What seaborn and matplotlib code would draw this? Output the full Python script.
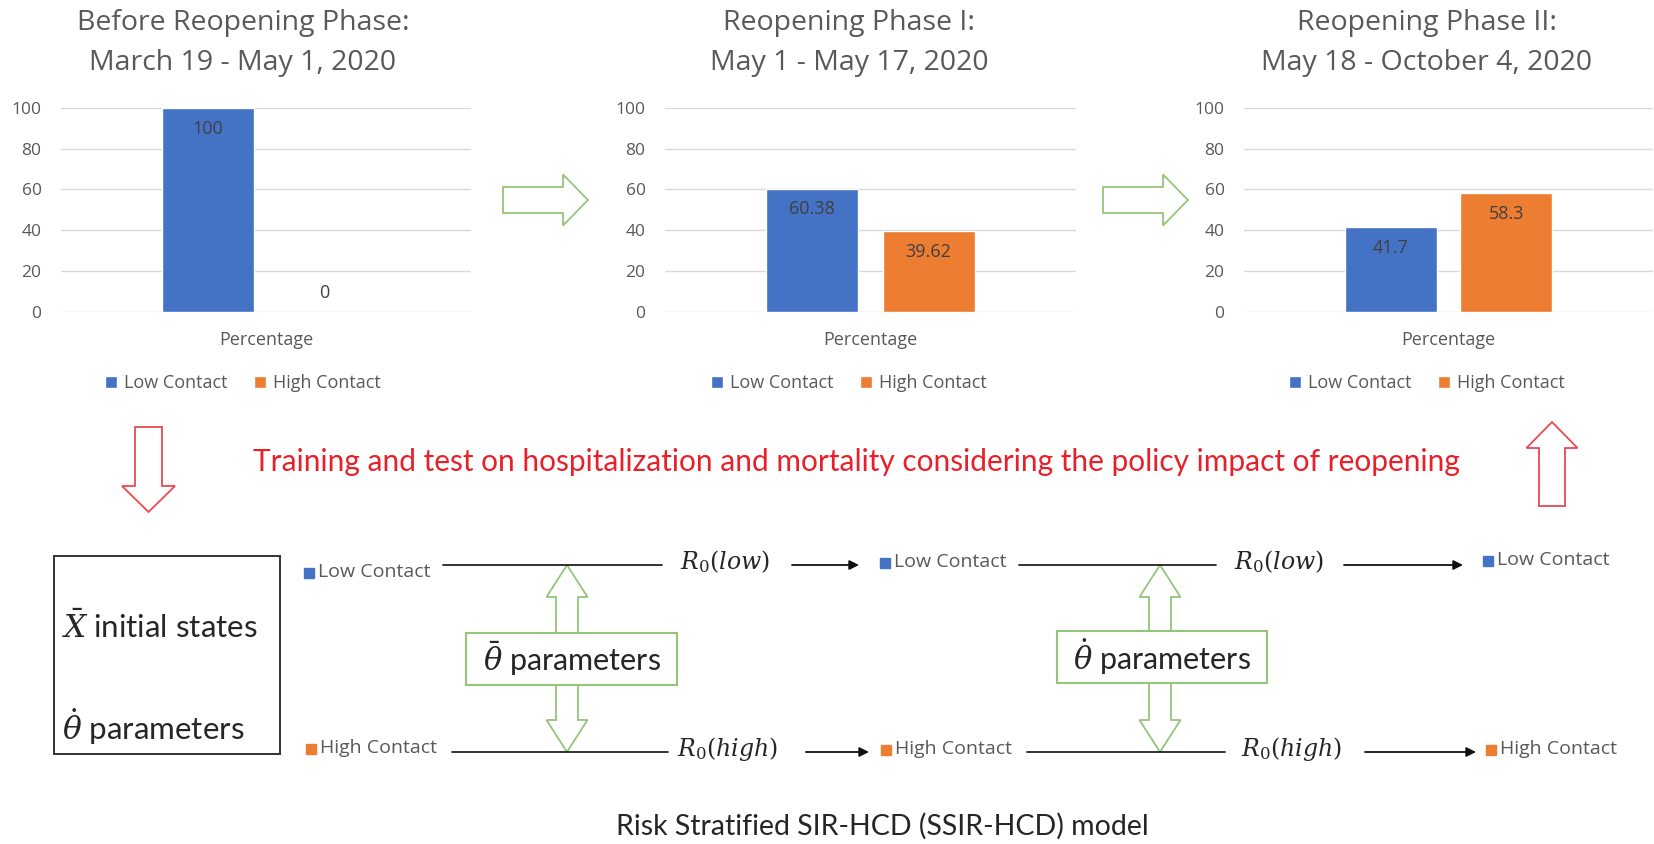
import numpy as np
import pandas as pd
import matplotlib
matplotlib.use("Agg")
import matplotlib.pyplot as plt
from matplotlib.patches import FancyArrow, Rectangle
import seaborn as sns

# values
phase_titles = [
    ("Before Reopening Phase:", "March 19 - May 1, 2020"),
    ("Reopening Phase I:", "May 1 - May 17, 2020"),
    ("Reopening Phase II:", "May 18 - October 4, 2020"),
]
groups = ["Low Contact", "High Contact"]
category = "Percentage"
low_contact = [100, 60.38, 41.7]
high_contact = [0, 39.62, 58.3]
yticks = [0, 20, 40, 60, 80, 100]

policy_text = "Training and test on hospitalization and mortality considering the policy impact of reopening"
caption = "Risk Stratified SIR-HCD (SSIR-HCD) model"

palette = {"Low Contact": "#4472C4", "High Contact": "#ED7D31"}
GREY = "#595959"
GREEN = "#94C57A"
RED = "#E84A50"
CALIBRI_LIKE = ["Lato", "DejaVu Sans"]

sns.set_style("white")
plt.rcParams["font.family"] = ["Open Sans", "DejaVu Sans"]
plt.rcParams["mathtext.fontset"] = "dejavuserif"

W, H = 1654, 844
fig = plt.figure(figsize=(W / 100, H / 100), dpi=100)

# full-figure overlay in pixel units for the diagram parts
bg = fig.add_axes([0, 0, 1, 1])
bg.set_xlim(0, W)
bg.set_ylim(H, 0)
bg.axis("off")


def px_axes(x0, x1, y_top, y_bot):
    return fig.add_axes([x0 / W, 1 - y_bot / H, (x1 - x0) / W, (y_bot - y_top) / H])


panel_x = [(61, 471), (665, 1076), (1244, 1653)]
head_x = [243, 849, 1427]

for i in range(3):
    vals = [low_contact[i], high_contact[i]]
    df = pd.DataFrame({"Category": [category] * 2, "Group": groups, "Value": vals})
    ax = px_axes(*panel_x[i], 107.7, 312)
    sns.barplot(data=df, x="Category", y="Value", hue="Group", hue_order=groups,
                palette=palette, width=0.566, gap=0.207, saturation=1, ax=ax)
    ax.set_xlim(-0.5, 0.5)
    ax.set_ylim(0, 100)
    ax.set_yticks(yticks)
    ax.yaxis.grid(True, color="#D9D9D9", lw=1)
    ax.set_axisbelow(True)
    sns.despine(ax=ax, left=True, bottom=True)
    ax.set_xlabel("")
    ax.set_ylabel("")
    ax.tick_params(axis="both", length=0, labelsize=12.5, labelcolor=GREY)
    ax.tick_params(axis="x", pad=14, labelsize=13)
    ax.tick_params(axis="y", pad=14)

    # data labels
    for cont, v in zip(ax.containers, vals):
        patch = cont.patches[0]
        xc = patch.get_x() + patch.get_width() / 2
        off = -15 if v > 0 else 14
        ax.annotate(f"{v:g}", (xc, v), xytext=(0, off), textcoords="offset points",
                    ha="center", va="center", fontsize=13, color="#404040")

    handles, labels = ax.get_legend_handles_labels()
    if ax.legend_ is not None:
        ax.legend_.remove()
    ax.legend(handles, labels, loc="center", bbox_to_anchor=(head_x[i], 383),
              bbox_transform=bg.transData, ncol=2, frameon=False, fontsize=13,
              handlelength=0.65, handleheight=0.65, handletextpad=0.4,
              columnspacing=1.5, labelcolor=GREY)

    bg.text(head_x[i], 23, phase_titles[i][0], ha="center", va="center", fontsize=20.5, color=GREY)
    bg.text(head_x[i], 63, phase_titles[i][1], ha="center", va="center", fontsize=20.5, color=GREY)

# green arrows between the phases
for x0 in [503, 1103]:
    bg.add_patch(FancyArrow(x0, 200, 85, 0, width=26, head_width=51, head_length=25,
                            length_includes_head=True, fc="white", ec=GREEN, lw=1.3))

# red arrows and text
bg.add_patch(FancyArrow(148.5, 427, 0, 85, width=27, head_width=53, head_length=26,
                        length_includes_head=True, fc="white", ec=RED, lw=1.3))
bg.add_patch(FancyArrow(1552, 506, 0, -84, width=26, head_width=51, head_length=26,
                        length_includes_head=True, fc="white", ec=RED, lw=1.3))
bg.text(856, 462, policy_text, ha="center", va="center", fontsize=21.5,
        color="#E8202A", family=CALIBRI_LIKE)

# left box
bg.add_patch(Rectangle((54, 556), 226, 198, fill=False, ec="#333333", lw=1.4))
bg.text(61, 626, r"$\bar{X}$ initial states", ha="left", va="center", fontsize=22.5,
        family=CALIBRI_LIKE)
bg.text(62, 727, r"$\dot{\theta}$ parameters", ha="left", va="center", fontsize=22.5,
        family=CALIBRI_LIKE)

# model flow rows
rows = [
    # (group, line y, label ys, squares, lines, R0 positions, arrows, r0 text)
    ("Low Contact", 565, [572, 562, 560], [309, 885, 1488], [(443, 662), (1019, 1216)],
     [680, 1234], [(792, 859), (1344, 1463)], r"$R_0(low)$"),
    ("High Contact", 752, [748, 749, 749], [311, 886, 1491], [(452, 668), (1027, 1225)],
     [677, 1241], [(806, 869), (1365, 1476)], r"$R_0(high)$"),
]
for grp, ly, tys, sq, lines, r0x, arrows, r0 in rows:
    for sx, ty in zip(sq, tys):
        bg.plot([sx], [ty + 1], "s", ms=7.5, color=palette[grp])
        bg.text(sx + 9, ty, grp, ha="left", va="center", fontsize=14, color=GREY)
    for a, b in lines:
        bg.plot([a, b], [ly, ly], color="#222222", lw=1.3)
    for rx in r0x:
        bg.text(rx, ly - 3, r0, ha="left", va="center", fontsize=17)
    for a, b in arrows:
        bg.annotate("", xy=(b, ly), xytext=(a, ly),
                    arrowprops=dict(arrowstyle="-|>", color="#111111", lw=1.3,
                                    mutation_scale=14, shrinkA=0, shrinkB=0))

# theta parameter boxes with double arrows
for cx, (bx, by, bw, bh), sym in [(567, (466, 633, 211, 52), r"$\bar{\theta}$"),
                                  (1160, (1057, 631, 210, 52), r"$\dot{\theta}$")]:
    mid = by + bh / 2
    for tip in (565, 752):
        bg.add_patch(FancyArrow(cx, mid, 0, tip - mid, width=22, head_width=41,
                                head_length=32, length_includes_head=True,
                                fc="white", ec=GREEN, lw=1.3))
    bg.add_patch(Rectangle((bx, by), bw, bh, fc="white", ec=GREEN, lw=1.5, zorder=3))
    bg.text(bx + bw / 2, mid, sym + " parameters", ha="center", va="center",
            fontsize=22, family=CALIBRI_LIKE, zorder=4)

bg.text(882, 826, caption, ha="center", va="center", fontsize=20.5, family=CALIBRI_LIKE)

fig.savefig("out.png", dpi=100)
